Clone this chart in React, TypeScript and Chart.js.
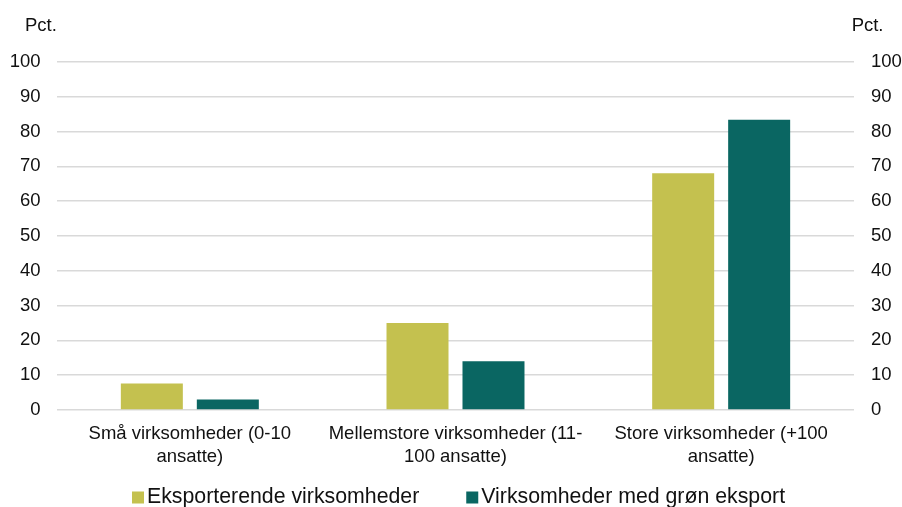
import React, { useEffect, useRef } from "react";
import { Chart, registerables } from "chart.js";

Chart.register(...registerables);

const categories: string[][] = [
  ["Små virksomheder (0-10", "ansatte)"],
  ["Mellemstore virksomheder (11-", "100 ansatte)"],
  ["Store virksomheder (+100", "ansatte)"],
];
const seriesNames = ["Eksporterende virksomheder", "Virksomheder med grøn eksport"];
const eksporterende = [7.6, 25.0, 68.0];
const groenEksport = [3.0, 14.0, 83.4];
const seriesColors = ["#C4C14F", "#0A6662"];
const axisTitle = "Pct.";
const yMin = 0;
const yMax = 100;
const yStep = 10;

const FONT = '"Liberation Sans", Arial, sans-serif';

const decorPlugin = {
  id: "decor",
  afterDraw(chart: any) {
    const ctx = chart.ctx as CanvasRenderingContext2D;
    ctx.save();
    // Axis unit labels
    ctx.fillStyle = "#111";
    ctx.font = `18.5px ${FONT}`;
    ctx.textBaseline = "middle";
    ctx.textAlign = "left";
    ctx.fillText(axisTitle, 25, 26);
    ctx.textAlign = "right";
    ctx.fillText(axisTitle, 883.5, 26);

    // Legend
    ctx.font = `21.3px ${FONT}`;
    ctx.textAlign = "left";
    ctx.textBaseline = "middle";
    let x = 132;
    const yMid = 497.5;
    chart.data.datasets.forEach((ds: any, i: number) => {
      ctx.fillStyle = ds.backgroundColor;
      ctx.fillRect(x, yMid - 6, 12, 12);
      ctx.fillStyle = "#111";
      ctx.fillText(ds.label, x + 15, yMid);
      const w = ctx.measureText(ds.label).width;
      x += 15 + w + 47;
    });
    ctx.restore();
  },
};

export default function App() {
  const ref = useRef<HTMLCanvasElement | null>(null);

  useEffect(() => {
    if (!ref.current) return;
    const chart = new Chart(ref.current, {
      type: "bar",
      data: {
        labels: categories,
        datasets: [
          {
            label: seriesNames[0],
            data: eksporterende,
            backgroundColor: seriesColors[0],
            categoryPercentage: 0.572,
            barPercentage: 0.816,
          },
          {
            label: seriesNames[1],
            data: groenEksport,
            backgroundColor: seriesColors[1],
            categoryPercentage: 0.572,
            barPercentage: 0.816,
          },
        ],
      },
      options: {
        animation: false,
        responsive: true,
        maintainAspectRatio: false,
        layout: { padding: { top: 62, bottom: 0, left: 0, right: 0 } },
        plugins: {
          legend: { display: false },
          tooltip: { enabled: false },
          title: { display: false },
        },
        scales: {
          x: {
            grid: { display: false, drawTicks: false },
            border: { display: false },
            ticks: {
              color: "#111",
              font: { family: FONT, size: 18.5, lineHeight: 1.25 },
              padding: 12,
              maxRotation: 0,
              autoSkip: false,
            },
            afterFit: (s: any) => {
              s.height = 97;
            },
          },
          y: {
            position: "left",
            min: yMin,
            max: yMax,
            grid: { color: "#d9d9d9", lineWidth: 1.5, drawTicks: false },
            border: { display: false },
            ticks: {
              stepSize: yStep,
              color: "#111",
              font: { family: FONT, size: 18.5 },
              padding: 16.5,
            },
            afterFit: (s: any) => {
              s.width = 57;
            },
          },
          y2: {
            position: "right",
            min: yMin,
            max: yMax,
            grid: { drawOnChartArea: false, drawTicks: false },
            border: { display: false },
            ticks: {
              stepSize: yStep,
              color: "#111",
              font: { family: FONT, size: 18.5 },
              padding: 17,
            },
            afterFit: (s: any) => {
              s.width = 48;
            },
          },
        },
      },
      plugins: [decorPlugin],
    });
    return () => chart.destroy();
  }, []);

  return (
    <div
      style={{
        position: "absolute",
        left: 0,
        top: 0,
        width: 902,
        height: 507,
        background: "#fff",
      }}
    >
      <canvas ref={ref} />
    </div>
  );
}
